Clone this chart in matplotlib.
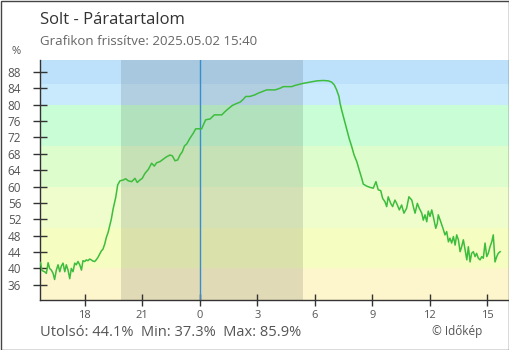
import matplotlib
matplotlib.use("Agg")
import matplotlib.pyplot as plt
from matplotlib.patches import Rectangle

plt.rcParams['font.family'] = ['Open Sans', 'DejaVu Sans']

# Óra (az első nap éjfélétől számítva) és relatív páratartalom (%)
ora = [15.67, 15.70, 15.77, 15.91, 16.00, 16.09, 16.17, 16.26, 16.35, 16.43, 16.52,
       16.61, 16.70, 16.78, 16.87, 16.96, 17.04, 17.13, 17.22, 17.30, 17.39, 17.48,
       17.56, 17.65, 17.74, 17.83, 17.91, 18.00, 18.08, 18.17, 18.26, 18.34, 18.43,
       18.52, 18.60, 18.69, 18.78, 18.87, 18.95, 19.04, 19.13, 19.22, 19.30, 19.39,
       19.48, 19.56, 19.62, 19.72, 19.84, 20.01, 20.14, 20.27, 20.45, 20.62, 20.74,
       20.88, 21.00, 21.14, 21.32, 21.49, 21.63, 21.75, 21.93, 22.10, 22.28, 22.45,
       22.57, 22.71, 22.85, 22.97, 23.09, 23.20, 23.32, 23.49, 23.66, 23.79, 24.01,
       24.10, 24.22, 24.31, 24.54, 24.76, 25.15, 25.32, 25.49, 25.70, 25.93, 26.10,
       26.27, 26.40, 26.62, 26.88, 27.05, 27.32, 27.49, 27.93, 28.19, 28.36, 28.80,
       28.97, 29.23, 29.40, 29.75, 30.10, 30.45, 30.71, 30.88, 31.02, 31.14, 31.26,
       31.32, 31.40, 31.49, 31.58, 31.67, 31.79, 31.93, 32.05, 32.19, 32.32, 32.45,
       32.53, 32.71, 32.88, 33.05, 33.19, 33.31, 33.44, 33.54, 33.66, 33.75, 33.83,
       33.96, 34.06, 34.18, 34.27, 34.41, 34.53, 34.65, 34.79, 34.91, 35.06, 35.14,
       35.23, 35.35, 35.45, 35.58, 35.66, 35.75, 35.84, 35.92, 36.01, 36.10, 36.18,
       36.31, 36.39, 36.44, 36.57, 36.70, 36.79, 36.88, 36.97, 37.05, 37.14, 37.23,
       37.32, 37.40, 37.49, 37.58, 37.66, 37.75, 37.84, 37.93, 38.01, 38.10, 38.18,
       38.27, 38.36, 38.44, 38.53, 38.62, 38.71, 38.79, 38.88, 38.97, 39.05, 39.14,
       39.23, 39.31, 39.40, 39.49, 39.57, 39.67]
para = [41.5, 41.3, 39.5, 39.2, 38.8, 41.4, 40.0, 39.6, 38.8, 37.3, 39.6,
        40.9, 39.2, 40.6, 41.3, 39.2, 40.9, 39.6, 37.5, 40.0, 39.2, 41.3,
        40.9, 41.7, 40.9, 39.6, 41.9, 41.7, 42.1, 41.9, 42.3, 42.1, 41.8,
        41.7, 42.1, 42.7, 43.5, 44.3, 44.7, 45.9, 47.6, 48.8, 50.4, 52.1,
        54.5, 56.1, 57.4, 60.4, 61.4, 61.6, 61.9, 61.4, 61.2, 62.0, 61.0,
        61.6, 62.0, 63.2, 64.2, 65.7, 65.0, 65.8, 66.1, 66.7, 67.3, 67.7,
        67.5, 66.3, 66.5, 67.7, 68.5, 69.9, 70.4, 71.8, 73.0, 74.1, 74.1,
        74.1, 75.4, 76.3, 76.5, 77.5, 77.5, 78.3, 79.0, 79.8, 80.3, 80.6,
        81.3, 82.0, 82.0, 82.4, 82.8, 83.3, 83.6, 83.6, 84.0, 84.4, 84.4,
        84.7, 85.0, 85.2, 85.5, 85.8, 85.9, 85.8, 85.5, 84.8, 83.6, 82.0,
        80.3, 78.7, 77.1, 75.4, 73.8, 71.8, 69.7, 67.7, 66.1, 64.0, 62.0,
        60.6, 60.1, 59.8, 59.6, 61.2, 59.2, 59.0, 57.1, 56.3, 55.1, 57.5,
        55.9, 55.1, 56.7, 55.9, 54.3, 55.5, 53.5, 54.7, 57.5, 56.7, 55.1,
        53.5, 55.9, 54.7, 53.5, 51.8, 53.1, 51.4, 54.0, 52.7, 54.3, 52.7,
        49.8, 51.0, 53.1, 51.4, 49.6, 48.2, 49.0, 46.5, 47.4, 46.2, 47.8,
        45.7, 48.2, 47.0, 44.1, 45.3, 47.0, 44.5, 42.1, 45.3, 41.6, 43.7,
        44.1, 42.9, 43.7, 42.5, 42.1, 42.9, 42.5, 46.2, 42.9, 43.7, 45.3,
        46.5, 48.2, 41.6, 42.9, 43.7, 44.1]

# Háttérsávok határai (%) és színei
sav_hatarok = [0, 40, 50, 60, 70, 80, 85, 100]
sav_szinek = ['#fdf6cd', '#f5fdc0', '#effdcd', '#defdcc', '#c8fdd6', '#c9e9fd', '#bde1fb']

# Éjszaka (napnyugta - napkelte), órában
ejszaka = (19.89, 29.39)
ejfel = 24.0

x_tickek = [18, 21, 24, 27, 30, 33, 36, 39]
x_cimkek = ['18', '21', '0', '3', '6', '9', '12', '15']
y_tickek = list(range(36, 89, 4))

SZURKE = '#555555'

fig = plt.figure(figsize=(5.1, 3.5), dpi=100)
ax = fig.add_axes([40 / 510, 50 / 350, 469 / 510, 240 / 350])

for lo, hi, c in zip(sav_hatarok[:-1], sav_hatarok[1:], sav_szinek):
    ax.axhspan(lo, hi, color=c, lw=0, zorder=0)

ax.axvspan(ejszaka[0], ejszaka[1], color='#000000', alpha=0.11, lw=0, zorder=1)
ax.axvline(ejfel, color='#3a8dcc', lw=1, zorder=2)

ax.plot(ora, para, color='#3dbd3d', lw=1.1, zorder=3)

ax.set_xlim(15.668, 40.13)
ax.set_ylim(32.3, 90.9)

ax.set_xticks(x_tickek)
ax.set_xticklabels(x_cimkek)
ax.set_yticks(y_tickek)

for s in ['top', 'right']:
    ax.spines[s].set_visible(False)
for s in ['left', 'bottom']:
    ax.spines[s].set_color('#333333')
    ax.spines[s].set_linewidth(1)

ax.tick_params(axis='y', direction='inout', length=10, width=1, color='#333333',
               pad=8.5, labelsize=8.5, labelcolor=SZURKE)
ax.tick_params(axis='x', direction='inout', length=8.6, width=1, color='#333333',
               pad=3, labelsize=8, labelcolor=SZURKE)

fig.text(40 / 510, 1 - 24 / 350, 'Solt - Páratartalom', fontsize=12, color='#333333',
         ha='left', va='baseline')
fig.text(40 / 510, 1 - 45 / 350, 'Grafikon frissítve: 2025.05.02 15:40', fontsize=9.5,
         color='#666666', ha='left', va='baseline')
fig.text(16 / 510, 1 - 52 / 350, '%', fontsize=8, color=SZURKE, ha='center', va='center')

fig.text(40 / 510, 1 - 333 / 350,
         f'Utolsó: {para[-1]:.1f}%  Min: {min(para):.1f}%  Max: {max(para):.1f}%',
         fontsize=10.5, color=SZURKE, ha='left', va='center')
fig.text(482 / 510, 1 - 332 / 350, '© Időkép', fontsize=8.5, color=SZURKE,
         ha='right', va='center')

# keret a teljes kép körül
fig.add_artist(Rectangle((0.5 / 510, 0.5 / 350), 509 / 510, 349 / 350,
                         transform=fig.transFigure, fill=False,
                         edgecolor='#444444', lw=1))

fig.savefig('out.png', dpi=100)
